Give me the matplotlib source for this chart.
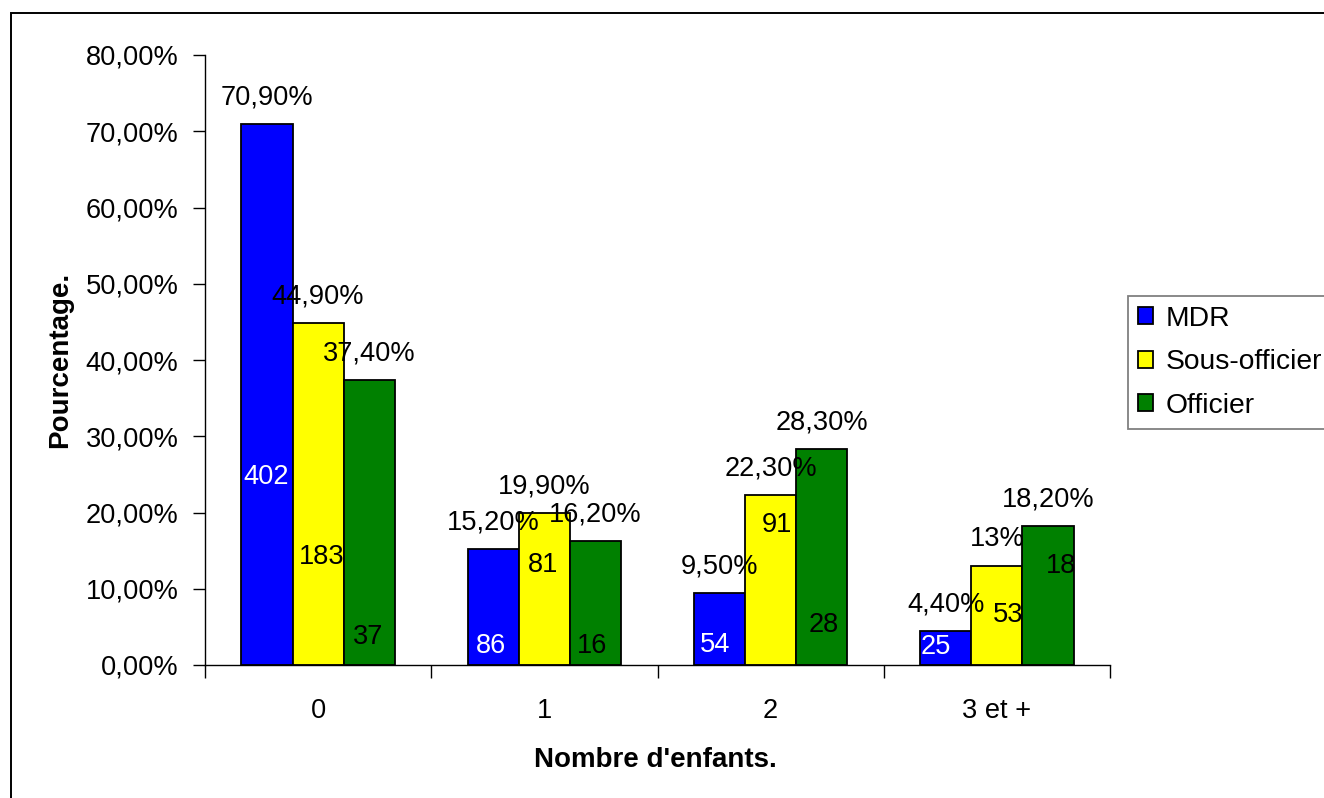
import numpy as np
import matplotlib
matplotlib.use("Agg")
import matplotlib.pyplot as plt
import matplotlib.ticker as mtick
from matplotlib.patches import Rectangle

plt.rcParams["font.family"] = ["Liberation Sans", "DejaVu Sans"]

# -----------------------------------------------------------
# Data
# -----------------------------------------------------------

categories      = ["0", "1", "2", "3 et +"]
series_names    = ["MDR", "Sous-officier", "Officier"]

mdr_pct         = [70.9, 15.2, 9.5, 4.4]
sous_off_pct    = [44.9, 19.9, 22.3, 13.0]
officier_pct    = [37.4, 16.2, 28.3, 18.2]

mdr_pct_lbl     = ["70,90%", "15,20%", "9,50%", "4,40%"]
sous_off_pct_lbl = ["44,90%", "19,90%", "22,30%", "13%"]
officier_pct_lbl = ["37,40%", "16,20%", "28,30%", "18,20%"]

mdr_counts      = [402, 86, 54, 25]
sous_off_counts = [183, 81, 91, 53]
officier_counts = [37, 16, 28, 18]

# count labels were placed by hand in the original (height in %, shift in px)
mdr_count_y     = [24.7, 2.5, 2.6, 2.4]
sous_off_count_y = [14.2, 13.1, 18.4, 6.6]
officier_count_y = [3.7, 2.5, 5.2, 13.0]
mdr_count_dx    = [-1, -2, -4, -10]
sous_off_count_dx = [4, -1, 6, 11]
officier_count_dx = [-1, -3, 2, 13]

colors          = ["#0000FF", "#FFFF00", "#008000"]
count_colors    = ["white", "black", "black"]

# -----------------------------------------------------------
# Plot
# -----------------------------------------------------------

fs              = 19.6
px              = 72 / 100      # points per pixel at dpi 100

fig             = plt.figure(figsize=(13.24, 7.98), dpi=100)
ax              = fig.add_axes([205 / 1324, 1 - 665 / 798, 905 / 1324, 610 / 798])

# outer chart border (only top and left visible in the original)
fig.patches.append(Rectangle((11 / 1324, -0.2), 1.5, 1.2 - 13 / 798,
                             transform=fig.transFigure, fill=False,
                             edgecolor="black", linewidth=1.4))

x               = np.arange(len(categories))
w               = 0.226

all_pct         = [mdr_pct, sous_off_pct, officier_pct]
all_lbl         = [mdr_pct_lbl, sous_off_pct_lbl, officier_pct_lbl]
all_counts      = [mdr_counts, sous_off_counts, officier_counts]
all_count_y     = [mdr_count_y, sous_off_count_y, officier_count_y]
all_count_dx    = [mdr_count_dx, sous_off_count_dx, officier_count_dx]

for i, name in enumerate(series_names):
    xs = x + (i - 1) * w
    ax.bar(xs, all_pct[i], width=w, color=colors[i], edgecolor="black",
           linewidth=1.3, label=name, zorder=2)
    for j in range(len(categories)):
        ax.annotate(all_lbl[i][j], (xs[j], all_pct[i][j]),
                    xytext=(0, 26.5 * px), textcoords="offset points",
                    ha="center", va="center", fontsize=fs, zorder=3)
        ax.annotate(str(all_counts[i][j]), (xs[j], all_count_y[i][j]),
                    xytext=(all_count_dx[i][j] * px, 0), textcoords="offset points",
                    ha="center", va="center", fontsize=fs,
                    color=count_colors[i], zorder=3)

ax.set_xlim(-0.5, len(categories) - 0.5)
ax.set_ylim(0, 80)
ax.set_yticks(np.arange(0, 81, 10))
ax.yaxis.set_major_formatter(
    mtick.FuncFormatter(lambda v, p: f"{v:.2f}%".replace(".", ","))
)

ax.set_xticks(x)
ax.set_xticklabels(categories)
ax.set_xticks(np.arange(-0.5, len(categories)), minor=True)
ax.tick_params(axis="x", which="major", length=0, pad=33 * px, labelsize=fs)
ax.tick_params(axis="x", which="minor", length=9, width=1, direction="out")
ax.tick_params(axis="y", length=9, width=1, direction="out", pad=14 * px,
               labelsize=fs)

for side in ["top", "right"]:
    ax.spines[side].set_visible(False)
for side in ["left", "bottom"]:
    ax.spines[side].set_linewidth(1.0)

ax.set_xlabel("Nombre d'enfants.", fontsize=20, fontweight="bold")
ax.set_ylabel("Pourcentage.", fontsize=20, fontweight="bold")
ax.xaxis.set_label_coords(0.498, -0.134)
ax.yaxis.set_label_coords(-0.146, 0.5)

leg = fig.legend(loc="upper left", bbox_to_anchor=(1128 / 1324, 1 - 296 / 798),
                 fontsize=20.3, frameon=True, fancybox=False, borderaxespad=0,
                 borderpad=0.35, handlelength=0.55, handleheight=0.55,
                 handletextpad=0.45, labelspacing=0.62)
leg.get_frame().set_edgecolor("#808080")
leg.get_frame().set_linewidth(1.3)
leg.get_frame().set_alpha(1)

fig.savefig("out.png", dpi=100)
